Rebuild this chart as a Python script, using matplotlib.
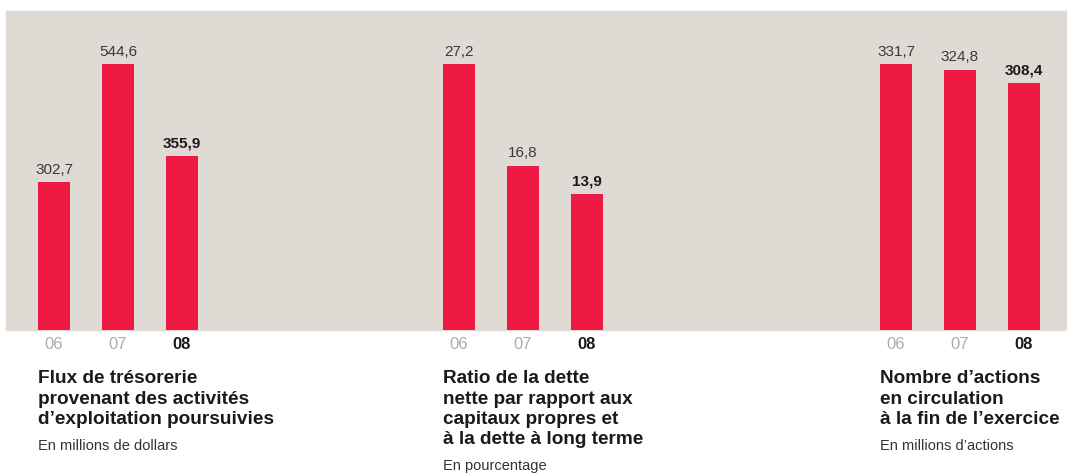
import matplotlib.pyplot as plt
from matplotlib.patches import Rectangle

years = ['06', '07', '08']
cash_flow = [302.7, 544.6, 355.9]
debt_ratio = [27.2, 16.8, 13.9]
shares = [331.7, 324.8, 308.4]

titles = [
    ['Flux de trésorerie', 'provenant des activités', 'd\u2019exploitation poursuivies'],
    ['Ratio de la dette', 'nette par rapport aux', 'capitaux propres et', 'à la dette à long terme'],
    ['Nombre d\u2019actions', 'en circulation', 'à la fin de l\u2019exercice'],
]
units = ['En millions de dollars', 'En pourcentage', 'En millions d\u2019actions']

BG = '#e0dad5'
RED = '#ee1a43'
GRAY = '#acacac'
DARK = '#1a1a1a'

plt.rcParams['font.family'] = ['Liberation Sans', 'DejaVu Sans']

W, H = 1067, 475


def main():
    fig = plt.figure(figsize=(W / 100, H / 100), dpi=100)
    # beige band behind all three panels
    fig.patches.append(Rectangle((6 / W, (H - 330) / H), (W - 6) / W, 319 / H,
                                 transform=fig.transFigure, color=BG, zorder=0))

    lefts = [22, 427, 864]
    series = [cash_flow, debt_ratio, shares]
    for left, values, title, unit in zip(lefts, series, titles, units):
        ax = fig.add_axes([left / W, (H - 330) / H, 192 / W, 319 / H], zorder=2)
        ax.patch.set_alpha(0)
        x = range(len(values))
        ax.bar(x, values, width=0.5, color=RED, zorder=2)
        ax.set_xlim(-0.5, 2.5)
        ax.set_ylim(0, max(values) * 319 / 266)
        for s in ax.spines.values():
            s.set_visible(False)
        ax.set_yticks([])
        ax.set_xticks(list(x))
        ax.set_xticklabels(years, fontsize=12)
        ax.tick_params(axis='x', length=0, pad=5)
        for i, lab in enumerate(ax.get_xticklabels()):
            if i == len(values) - 1:
                lab.set_color(DARK)
                lab.set_fontweight('bold')
            else:
                lab.set_color(GRAY)
        for i, v in enumerate(values):
            last = i == len(values) - 1
            ax.annotate(f'{v:.1f}'.replace('.', ','), (i, v), xytext=(0, 6),
                        textcoords='offset points', ha='center', va='baseline',
                        fontsize=11, color=DARK if last else '#3a3a3a',
                        fontweight='bold' if last else 'normal')
        tx = (left + 16) / W
        y = 383
        for line in title:
            fig.text(tx, 1 - y / H, line, ha='left', va='baseline', fontsize=13.7,
                     fontweight='bold', color=DARK)
            y += 20.5
        fig.text(tx, 1 - (y + 5) / H, unit, ha='left', va='baseline',
                 fontsize=10.5, color='#333333')

    fig.savefig('out.png', dpi=100)


if __name__ == '__main__':
    main()
